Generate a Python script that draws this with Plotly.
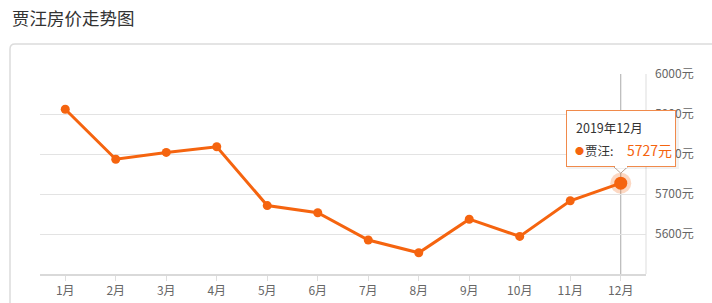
import plotly.graph_objects as go

months = ["1月", "2月", "3月", "4月", "5月", "6月", "7月", "8月", "9月", "10月", "11月", "12月"]
prices = [5912, 5787, 5804, 5818, 5671, 5653, 5585, 5553, 5637, 5594, 5683, 5727]
y_ticks = [5600, 5700, 5800, 5900, 6000]
y_tick_text = ["5600元", "5700元", "5800元", "5900元", "6000元"]
series_name = "贾汪"
tip_title = "2019年12月"
title_text = "贾汪房价走势图"

ORANGE = "#f5640f"
FONT = "Microsoft YaHei, Noto Sans CJK SC, sans-serif"

W, H = 712, 303
ML, MR, MT, MB = 40, 66, 74, 29
PW = W - ML - MR
PH = H - MT - MB

def px_x(p):
    return (p - ML) / PW

def px_y(p):
    return (H - MB - p) / PH

fig = go.Figure()

fig.add_trace(go.Scatter(
    x=months, y=prices, mode="lines+markers",
    line=dict(color=ORANGE, width=3),
    marker=dict(color=ORANGE, size=9),
    name=series_name, hoverinfo="skip", cliponaxis=False,
))

hi = len(months) - 1
fig.add_trace(go.Scatter(
    x=[months[hi]], y=[prices[hi]], mode="markers",
    marker=dict(color="rgba(245,100,15,0.25)", size=21),
    hoverinfo="skip", cliponaxis=False,
))
fig.add_trace(go.Scatter(
    x=[months[hi]], y=[prices[hi]], mode="markers",
    marker=dict(color=ORANGE, size=13),
    hoverinfo="skip", cliponaxis=False,
))

shapes = []
x0, xr = px_x(10), px_x(730)
yt, yb = px_y(44), px_y(320)
rx, ry = 5 / PW, 5 / PH
shapes.append(dict(
    type="path", xref="paper", yref="paper",
    path=f"M {x0},{yb} L {x0},{yt - ry} Q {x0},{yt} {x0 + rx},{yt} L {xr},{yt}",
    line=dict(color="#dcdcdc", width=1.5), layer="below",
))
shapes.append(dict(type="line", xref="paper", yref="paper", x0=1, x1=1, y0=0, y1=1,
                   line=dict(color="#dddddd", width=1), layer="below"))
shapes.append(dict(type="line", xref="x", yref="paper", x0=months[hi], x1=months[hi], y0=0, y1=1,
                   line=dict(color="#aaaaaa", width=1), layer="below"))
# tooltip pointer
shapes.append(dict(type="path", xref="x", yref="y", xsizemode="pixel", ysizemode="pixel",
                   xanchor=months[hi], yanchor=prices[hi],
                   path="M -7,17 L 0,10 L 7,17 Z",
                   fillcolor="white", line=dict(width=0)))
shapes.append(dict(type="path", xref="x", yref="y", xsizemode="pixel", ysizemode="pixel",
                   xanchor=months[hi], yanchor=prices[hi],
                   path="M -7,16.5 L 0,10 L 7,16.5",
                   line=dict(color="#b8a090", width=1)))

tip = dict(xref="x", yref="y", x=months[hi], y=prices[hi], showarrow=False)
annotations = [
    dict(text=title_text, xref="paper", yref="paper", x=px_x(10), y=px_y(17),
         xanchor="left", yanchor="middle", showarrow=False,
         font=dict(size=17.5, color="#333333", family=FONT)),
    dict(**tip, text=" ", width=112, height=59, borderpad=0, borderwidth=0,
         bgcolor="rgba(0,0,0,0.05)", xanchor="center", yanchor="bottom",
         xshift=2, yshift=14),
    dict(**tip, text=" ", width=108, height=55, borderpad=0, borderwidth=1,
         bordercolor="#f08a4b", bgcolor="white", xanchor="center", yanchor="bottom",
         xshift=0, yshift=16),
    dict(**tip, text=" ", width=12, height=2, borderpad=0, borderwidth=0,
         bgcolor="white", xanchor="center", yanchor="middle", xshift=0, yshift=16.5,
         font=dict(size=1)),
    dict(**tip, text=tip_title, xshift=-47, yshift=56, xanchor="left", yanchor="middle",
         font=dict(size=12.5, color="#333333", family=FONT)),
    dict(**tip, text="●", xshift=-48, yshift=33, xanchor="left", yanchor="middle",
         font=dict(size=9, color=ORANGE, family=FONT)),
    dict(**tip, text=f"{series_name}:", xshift=-38, yshift=33, xanchor="left", yanchor="middle",
         font=dict(size=12.5, color="#333333", family=FONT)),
    dict(**tip, text=f"{prices[hi]}元", xshift=4, yshift=33, xanchor="left", yanchor="middle",
         font=dict(size=14, color=ORANGE, family=FONT)),
]

fig.update_layout(
    width=W, height=H,
    margin=dict(l=ML, r=MR, t=MT, b=MB, autoexpand=False),
    paper_bgcolor="white", plot_bgcolor="white",
    showlegend=False,
    shapes=shapes, annotations=annotations,
    font=dict(family=FONT, size=12, color="#666666"),
    xaxis=dict(
        type="category", range=[-0.5, len(months) - 0.5],
        showgrid=False, zeroline=False, automargin=False,
        showline=True, linecolor="#d9d9d9", linewidth=2,
        ticks="outside", ticklen=5, tickcolor="#dddddd", tickwidth=1,
        tickfont=dict(size=12, color="#666666"),
        fixedrange=True,
    ),
    yaxis=dict(
        side="right", range=[5500, 6000], automargin=False,
        tickvals=y_ticks, ticktext=y_tick_text,
        showgrid=True, gridcolor="#e3e3e3", gridwidth=1,
        zeroline=False, showline=False, ticks="",
        ticklabelstandoff=8,
        tickfont=dict(size=12, color="#666666"),
        fixedrange=True,
    ),
)

fig.write_html("out.html")
